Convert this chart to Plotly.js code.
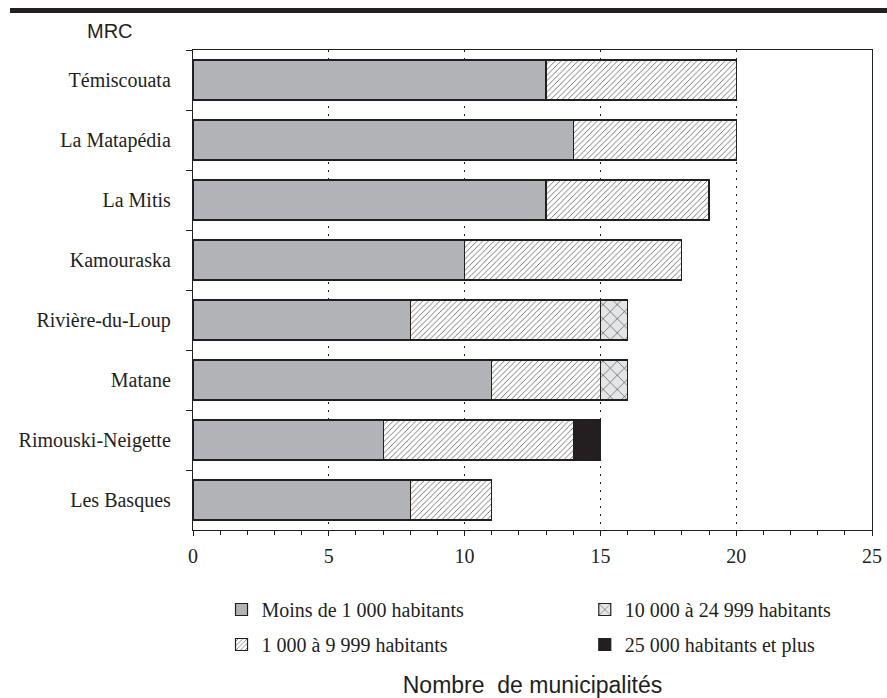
<!DOCTYPE html>
<html><head><meta charset="utf-8">
<script src="https://cdn.plot.ly/plotly-3.0.1.min.js"></script>
<style>html,body{margin:0;padding:0;background:#fff}</style>
</head><body>
<div id="chart" style="width:887px;height:698px"></div>
<script>
const categories = ["Témiscouata","La Matapédia","La Mitis","Kamouraska","Rivière-du-Loup","Matane","Rimouski-Neigette","Les Basques"];
const seriesNames = ["Moins de 1 000 habitants","1 000 à 9 999 habitants","10 000 à 24 999 habitants","25 000 habitants et plus"];
const moins1000   = [13,14,13,10,8,11,7,8];
const de1000a9999 = [7,6,6,8,7,4,7,3];
const de10000a24999 = [0,0,0,0,1,1,0,0];
const plus25000   = [0,0,0,0,0,0,1,0];
const xTicks = [0,5,10,15,20,25];

const ink = "#231f20";
const serif = "Liberation Serif, Times New Roman, serif";
const sans = "Liberation Sans, Arial, sans-serif";

function tr(name, vals, marker, legend, group){
  return {type:"bar", orientation:"h", name:name, x:vals, y:categories,
    marker:Object.assign({line:{color:ink,width:1.2}}, marker),
    legend:legend, legendgroup:group, hoverinfo:"x+y+name"};
}
const data = [
  tr(seriesNames[0], moins1000, {color:"#b2b3b6"}, "legend", "a"),
  tr(seriesNames[1], de1000a9999, {color:"#ffffff", pattern:{shape:"/", fgcolor:"#666", bgcolor:"#ffffff", size:4, solidity:0.22}}, "legend", "b"),
  tr(seriesNames[2], de10000a24999, {color:"#e4e5e6", pattern:{shape:"x", fgcolor:"#444", bgcolor:"#e4e5e6", size:10, solidity:0.12}}, "legend2", "c"),
  tr(seriesNames[3], plus25000, {color:ink}, "legend2", "d")
];

const layout = {
  width:887, height:698,
  margin:{l:193, r:15, t:50, b:168},
  paper_bgcolor:"#fff", plot_bgcolor:"#fff",
  barmode:"stack", bargap:0.333,
  xaxis:{range:[0,25], tickvals:xTicks, ticks:"outside", ticklen:5, tickcolor:ink,
    minor:{dtick:1, ticks:"outside", ticklen:4, tickcolor:ink, showgrid:false},
    showline:true, linecolor:ink, linewidth:1.2, mirror:true,
    showgrid:true, gridcolor:ink, gridwidth:1, griddash:"2px,6px", zeroline:false,
    tickfont:{family:serif, size:20, color:ink}, ticklabelstandoff:3,
    title:{text:"Nombre  de municipalités", font:{family:sans, size:23, color:ink}, standoff:112},
    automargin:false, fixedrange:true},
  yaxis:{type:"category", categoryorder:"array", categoryarray:categories, autorange:"reversed",
    tickson:"boundaries", ticks:"outside", ticklen:6, tickcolor:ink,
    showline:true, linecolor:ink, linewidth:1.2, mirror:true, showgrid:false, zeroline:false,
    tickfont:{family:serif, size:20, color:ink}, ticklabelstandoff:17,
    automargin:false, fixedrange:true},
  legend:{x:0.042, xanchor:"left", y:-0.125, yanchor:"top", orientation:"v",
    font:{family:serif, size:20, color:ink}, tracegroupgap:6, bgcolor:"rgba(0,0,0,0)"},
  legend2:{x:0.577, xanchor:"left", y:-0.125, yanchor:"top", orientation:"v",
    font:{family:serif, size:20, color:ink}, tracegroupgap:6, bgcolor:"rgba(0,0,0,0)"},
  shapes:[{type:"line", xref:"paper", yref:"paper", x0:-0.2695, x1:1.03, y0:1.0823, y1:1.0823,
    line:{color:ink, width:5}}],
  annotations:[{text:"MRC", xref:"paper", yref:"paper", x:-0.122, y:1.04, showarrow:false,
    font:{family:sans, size:20, color:ink}, xanchor:"center", yanchor:"middle"}]
};
Plotly.newPlot("chart", data, layout, {displayModeBar:false, staticPlot:true});
</script>
</body></html>
